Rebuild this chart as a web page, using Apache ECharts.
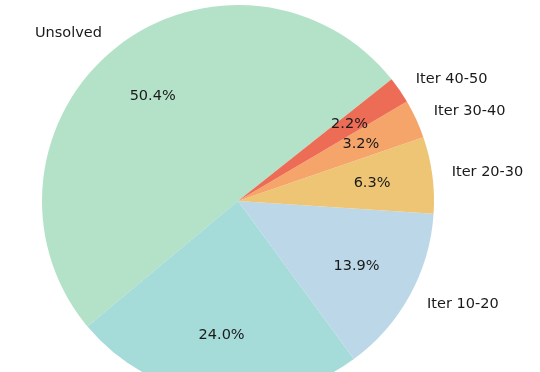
<!DOCTYPE html>
<html>
<head>
<meta charset="utf-8">
<script src="https://cdn.jsdelivr.net/npm/echarts@6/dist/echarts.min.js"></script>
<style>
html,body{margin:0;padding:0;background:#fff;}
#chart{width:540px;height:372px;}
</style>
</head>
<body>
<div id="chart"></div>
<script>
const categories = ['Unsolved', 'Iter 0-10', 'Iter 10-20', 'Iter 20-30', 'Iter 30-40', 'Iter 40-50'];
const values = [50.4, 24.0, 13.9, 6.3, 3.2, 2.2];
const colors = ['#b4e2c8', '#a5dbd9', '#bcd8e8', '#edc575', '#f6a56a', '#ec6c56'];

const R = 196;
const CX = 238, CY = 201;
const FONT = 'DejaVu Sans';
const PCT_R = 2 * (0.69 * R - 3);

const chart = echarts.init(document.getElementById('chart'), null, {renderer: 'canvas'});

const mainData = categories.map((c, i) => ({name: c, value: values[i], itemStyle: {color: colors[i]}}));
const pctData = categories.map((c, i) => ({name: c, value: values[i]}));

chart.setOption({
  backgroundColor: '#ffffff',
  animation: false,
  series: [
    {
      type: 'pie',
      center: [CX, CY],
      radius: [0, R],
      startAngle: 38.4,
      clockwise: false,
      avoidLabelOverlap: false,
      silent: true,
      itemStyle: {borderWidth: 0},
      label: {
        show: true,
        position: 'outside',
        formatter: '{b}',
        fontFamily: FONT,
        fontSize: 14.5,
        color: '#1a1a1a',
        distanceToLabelLine: 0,
        alignTo: 'none'
      },
      labelLine: {show: false, length: R * 0.1, length2: 0},
      data: mainData
    },
    {
      type: 'pie',
      center: [CX, CY],
      radius: [0, PCT_R],
      startAngle: 38.4,
      clockwise: false,
      avoidLabelOverlap: false,
      silent: true,
      itemStyle: {color: 'rgba(0,0,0,0)', borderWidth: 0},
      label: {
        show: true,
        position: 'inside',
        rotate: 0,
        formatter: (p) => p.value.toFixed(1) + '%',
        fontFamily: FONT,
        fontSize: 14.5,
        color: '#1a1a1a'
      },
      labelLine: {show: false},
      data: pctData
    }
  ]
});
</script>
</body>
</html>
